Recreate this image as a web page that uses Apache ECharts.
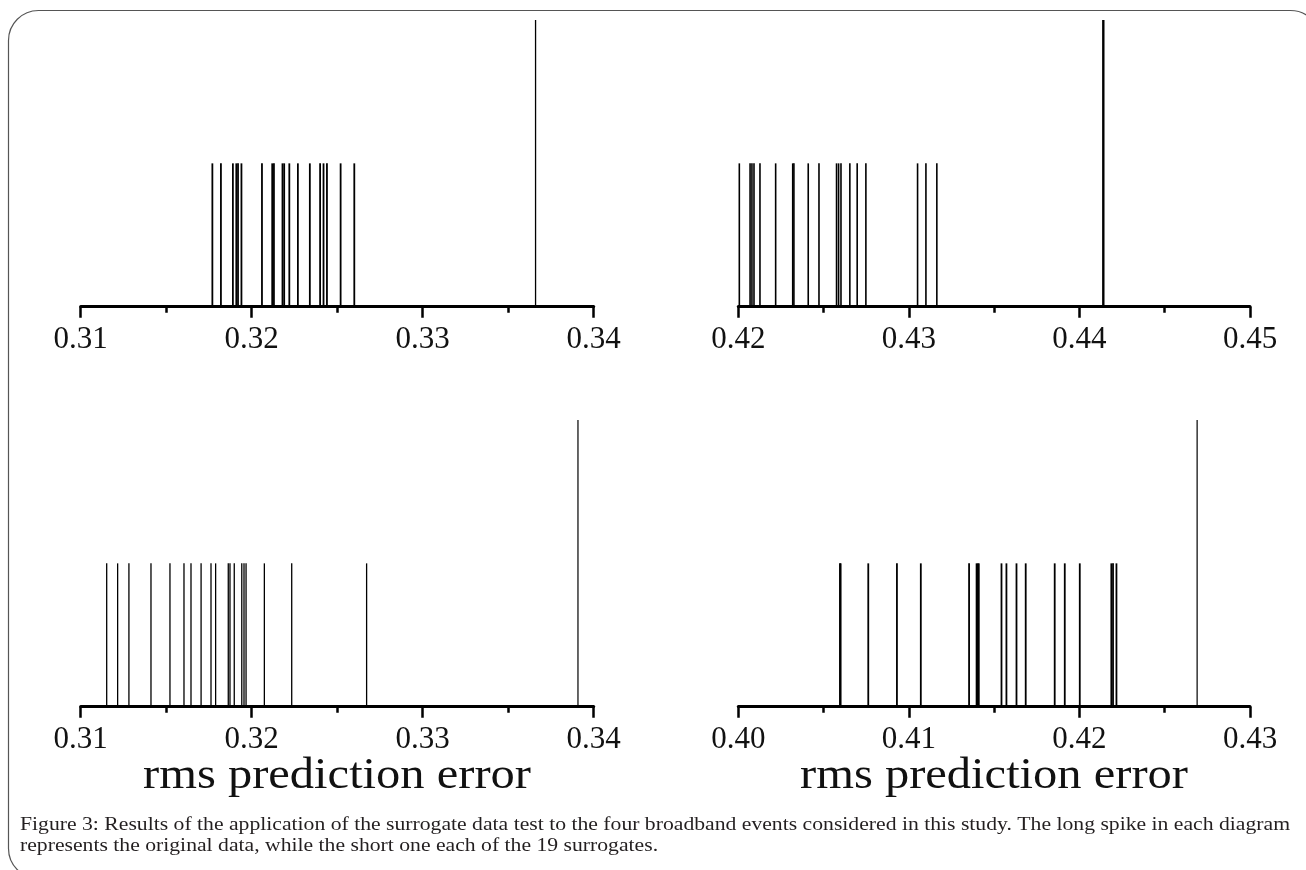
<!DOCTYPE html>
<html>
<head>
<meta charset="utf-8">
<script src="https://cdn.jsdelivr.net/npm/echarts@6/dist/echarts.min.js"></script>
<style>
html,body{margin:0;padding:0;background:#fff;}
#chart{width:1306px;height:870px;}
</style>
</head>
<body>
<div id="chart"></div>
<script>
// ---- data ----
const tlTicks = [0.31, 0.32, 0.33, 0.34];
const tlSurrogates = [0.3177, 0.3182, 0.3189, 0.3191, 0.3192, 0.3194, 0.3206, 0.3212, 0.3213, 0.3218, 0.3219, 0.3222, 0.3227, 0.3234, 0.3240, 0.3242, 0.3244, 0.3252, 0.3260];
const tlOriginal = [0.3366];

const trTicks = [0.42, 0.43, 0.44, 0.45];
const trSurrogates = [0.42006, 0.42069, 0.42080, 0.42092, 0.42127, 0.42219, 0.42319, 0.42326, 0.42410, 0.42473, 0.42576, 0.42588, 0.42602, 0.42654, 0.42697, 0.42748, 0.43051, 0.43100, 0.43164];
const trOriginal = [0.4414];

const blTicks = [0.31, 0.32, 0.33, 0.34];
const blSurrogates = [0.31152, 0.31216, 0.31282, 0.31411, 0.31522, 0.31604, 0.31645, 0.31704, 0.31762, 0.31789, 0.31863, 0.31873, 0.31898, 0.31942, 0.31955, 0.31967, 0.32074, 0.32234, 0.32672];
const blOriginal = [0.33908];

const brTicks = [0.40, 0.41, 0.42, 0.43];
const brSurrogates = [0.40596, 0.40600, 0.40762, 0.40930, 0.41070, 0.41353, 0.41397, 0.41404, 0.41410, 0.41543, 0.41572, 0.41631, 0.41685, 0.41855, 0.41914, 0.42002, 0.42187, 0.42197, 0.42217];
const brOriginal = [0.4269];

const surrogateHeight = 1;
const originalHeight = 2;

const axisTitle = 'rms prediction error';
const captionLine1 = 'Figure 3: Results of the application of the surrogate data test to the four broadband events considered in this study. The long spike in each diagram';
const captionLine2 = 'represents the original data, while the short one each of the 19 surrogates.';

// ---- layout helpers ----
const measureCtx = document.createElement('canvas').getContext('2d');
function textWidth(text, font) { measureCtx.font = font; return measureCtx.measureText(text).width; }

const titleFont = '45px "Liberation Serif"';
const titleScale = 388 / textWidth(axisTitle, titleFont);
const captionFont = '18.5px "Liberation Serif"';
const captionScale = 1270 / textWidth(captionLine1, captionFont);

// ---- chart ----
const panels = [
  {ticks: tlTicks, s: tlSurrogates, o: tlOriginal, grid: {left: 80.7, top: 20, width: 513, height: 286.7}, sw: 1.8, ow: 1.3},
  {ticks: trTicks, s: trSurrogates, o: trOriginal, grid: {left: 738.3, top: 20, width: 511.7, height: 286.7}, sw: 1.6, ow: 2.4},
  {ticks: blTicks, s: blSurrogates, o: blOriginal, grid: {left: 80.7, top: 420, width: 513, height: 286.7}, sw: 1.3, ow: 1.2},
  {ticks: brTicks, s: brSurrogates, o: brOriginal, grid: {left: 738.3, top: 420, width: 511.7, height: 286.7}, sw: 1.8, ow: 1.2}
];

const grids = [], xAxes = [], yAxes = [], series = [];
panels.forEach((p, i) => {
  grids.push(Object.assign({containLabel: false}, p.grid));
  xAxes.push({
    type: 'value', gridIndex: i,
    min: p.ticks[0], max: p.ticks[p.ticks.length - 1], interval: 0.01,
    axisLine: {show: true, onZero: false, lineStyle: {color: '#000', width: 3}},
    axisTick: {show: true, length: 11, lineStyle: {color: '#000', width: 2.5}},
    minorTick: {show: true, splitNumber: 2, length: 6, lineStyle: {color: '#000', width: 2.5}},
    splitLine: {show: false},
    axisLabel: {
      color: '#111', fontFamily: 'Liberation Serif', fontSize: 31, margin: 18,
      formatter: v => v.toFixed(2)
    }
  });
  yAxes.push({type: 'value', gridIndex: i, min: 0, max: 2, show: false});
  const mk = (vals, h, w) => ({
    type: 'custom', xAxisIndex: i, yAxisIndex: i,
    data: vals.map(v => [v, h]),
    renderItem: (params, api) => {
      const a = api.coord([api.value(0), 0]);
      const b = api.coord([api.value(0), api.value(1)]);
      return {type: 'line', shape: {x1: a[0], y1: a[1], x2: b[0], y2: b[1]}, style: {stroke: '#000', lineWidth: w}};
    },
    silent: true, animation: false
  });
  series.push(mk(p.s, surrogateHeight, p.sw));
  series.push(mk(p.o, originalHeight, p.ow));
});

const chart = echarts.init(document.getElementById('chart'), null, {renderer: 'canvas'});
chart.setOption({
  animation: false,
  backgroundColor: '#fff',
  grid: grids, xAxis: xAxes, yAxis: yAxes, series: series,
  graphic: [
    {type: 'rect', shape: {x: 8.5, y: 10.5, width: 1312, height: 868, r: 30}, style: {fill: 'none', stroke: '#555', lineWidth: 1.2}, silent: true},
    {type: 'text', x: 337, y: 776, scaleX: titleScale, style: {text: axisTitle, font: titleFont, fill: '#111', textAlign: 'center', textVerticalAlign: 'middle'}},
    {type: 'text', x: 994, y: 776, scaleX: titleScale, style: {text: axisTitle, font: titleFont, fill: '#111', textAlign: 'center', textVerticalAlign: 'middle'}},
    {type: 'text', x: 20, y: 825, scaleX: captionScale, style: {text: captionLine1, font: captionFont, fill: '#231f20', textAlign: 'left', textVerticalAlign: 'middle'}},
    {type: 'text', x: 20, y: 846, scaleX: captionScale, style: {text: captionLine2, font: captionFont, fill: '#231f20', textAlign: 'left', textVerticalAlign: 'middle'}}
  ]
});
</script>
</body>
</html>
